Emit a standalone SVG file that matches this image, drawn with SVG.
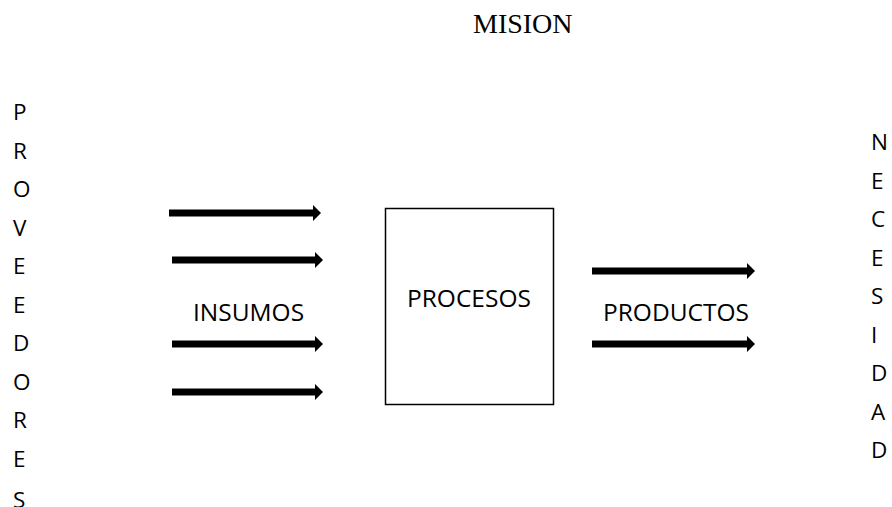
<svg xmlns="http://www.w3.org/2000/svg" width="892" height="507" viewBox="0 0 892 507">
<style>
.t{font-family:"Open Sans","Noto Sans",sans-serif;font-size:24.5px;fill:#000}
.v{font-family:"Open Sans","Noto Sans",sans-serif;font-size:22.5px;fill:#000}
.s{font-family:"Liberation Serif",serif;font-size:28px;fill:#000}
.a{stroke:#000;stroke-width:7;marker-end:url(#ah)}
</style>
<defs>
<marker id="ah" viewBox="0 0 8 16" refX="0" refY="8" markerWidth="8" markerHeight="16" markerUnits="userSpaceOnUse" orient="auto">
<path d="M0,0 L8,8 L0,16 z" fill="#000"/>
</marker>
</defs>
<rect width="892" height="507" fill="#fff"/>
<g id="title"><text class="s" x="473" y="33">MISION</text></g>
<g id="proveedores">
<text class="v" x="13" y="120">P</text>
<text class="v" x="13" y="158.5">R</text>
<text class="v" x="13" y="197">O</text>
<text class="v" x="13" y="235.5">V</text>
<text class="v" x="13" y="274">E</text>
<text class="v" x="13" y="312.5">E</text>
<text class="v" x="13" y="351">D</text>
<text class="v" x="13" y="389.5">O</text>
<text class="v" x="13" y="428">R</text>
<text class="v" x="13" y="466.5">E</text>
<text class="v" x="13" y="508">S</text>
</g>
<g id="necesidad">
<text class="v" x="871" y="150">N</text>
<text class="v" x="871" y="188.5">E</text>
<text class="v" x="871" y="227">C</text>
<text class="v" x="871" y="265.5">E</text>
<text class="v" x="871" y="304">S</text>
<text class="v" x="871" y="342.5">I</text>
<text class="v" x="871" y="381">D</text>
<text class="v" x="871" y="419.5">A</text>
<text class="v" x="871" y="458">D</text>
</g>
<g id="insumos"><text class="t" x="193" y="321">INSUMOS</text></g>
<g id="procesos">
<rect x="385.5" y="208.5" width="168" height="196" fill="none" stroke="#000" stroke-width="1.5"/>
<text class="t" x="407" y="307">PROCESOS</text>
</g>
<g id="productos"><text class="t" x="603" y="321">PRODUCTOS</text></g>
<g id="connectors">
<line class="a" x1="169" y1="213" x2="313" y2="213"/>
<line class="a" x1="172" y1="260" x2="315" y2="260"/>
<line class="a" x1="172" y1="344" x2="315" y2="344"/>
<line class="a" x1="172" y1="392" x2="315" y2="392"/>
<line class="a" x1="592" y1="271" x2="747" y2="271"/>
<line class="a" x1="592" y1="344" x2="747" y2="344"/>
</g>
</svg>
